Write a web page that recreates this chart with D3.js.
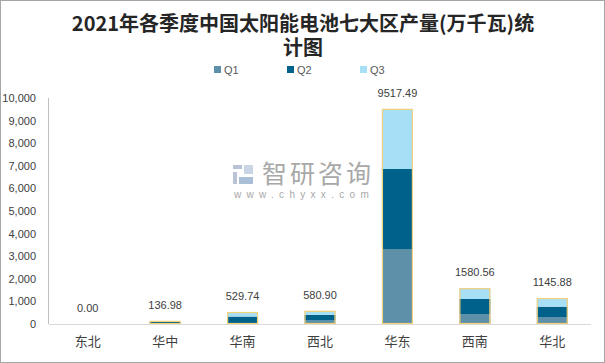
<!DOCTYPE html>
<html>
<head>
<meta charset="utf-8">
<script src="https://cdn.jsdelivr.net/npm/d3@7"></script>
<style>
  body { margin: 0; background: #fff; }
  svg { display: block; }
</style>
</head>
<body>
<div class="canvas"></div>
<script>
// 画布尺寸与边距
const width = 605;
const height = 363;
const marginTop = 98;
const marginRight = 14;
const marginBottom = 39;
const marginLeft = 49;

// 数据
const regions = ['东北', '华中', '华南', '西北', '华东', '西南', '华北'];
const q1 = [0, 30, 10, 154, 3318, 440, 310];
const q2 = [0, 70, 320, 250, 3540, 666, 456];
const q3 = [0, 36.98, 199.74, 176.9, 2659.49, 474.56, 379.88];
const totals = [0.00, 136.98, 529.74, 580.90, 9517.49, 1580.56, 1145.88];
const seriesNames = ['Q1', 'Q2', 'Q3'];
const yTicks = [0, 1000, 2000, 3000, 4000, 5000, 6000, 7000, 8000, 9000, 10000];

const colors = ['#5e90a9', '#00618a', '#a7dff7'];
const color = d3.scaleOrdinal(seriesNames, colors);

const rows = regions.map((r, i) => ({ region: r, Q1: q1[i], Q2: q2[i], Q3: q3[i], total: totals[i] }));
const stacked = d3.stack().keys(seriesNames)(rows);

const x = d3.scaleBand()
  .domain(regions)
  .range([marginLeft, width - marginRight])
  .paddingInner(0.6)
  .paddingOuter(0.3);

const y = d3.scaleLinear()
  .domain([0, 10000])
  .range([height - marginBottom, marginTop]);

const svg = d3.select('.canvas').append('svg')
  .attr('width', width)
  .attr('height', height);

// 外边框
svg.append('rect')
  .attr('x', 0.5).attr('y', 0.5)
  .attr('width', width - 1).attr('height', height - 1)
  .attr('fill', '#fff')
  .attr('stroke', '#a6a6a6');

// 标题
const title = svg.append('text')
  .attr('text-anchor', 'middle')
  .attr('font-family', '"Noto Sans CJK SC", sans-serif')
  .attr('font-weight', 'bold')
  .attr('font-size', 20)
  .attr('fill', '#262626');
title.append('tspan').attr('x', 303).attr('y', 31).text('2021年各季度中国太阳能电池七大区产量(万千瓦)统');
title.append('tspan').attr('x', 303).attr('y', 55).text('计图');

// 图例
const legend = svg.append('g')
  .selectAll('g')
  .data(seriesNames)
  .join('g')
    .attr('transform', (d, i) => `translate(${214 + i * 73}, 66)`);
legend.append('rect')
  .attr('width', 7).attr('height', 7)
  .attr('fill', d => color(d));
legend.append('text')
  .attr('x', 10).attr('y', 7.5)
  .attr('font-family', '"Liberation Sans", Arial, sans-serif')
  .attr('font-size', 11)
  .attr('fill', '#595959')
  .text(d => d);

// 水印
const wm = svg.append('g').attr('transform', 'translate(233, 163)');
wm.append('rect').attr('x', 0).attr('y', 2).attr('width', 9).attr('height', 4).attr('fill', '#b8c4d6');
wm.append('rect').attr('x', 0).attr('y', 9).attr('width', 4).attr('height', 12).attr('fill', '#b8c4d6');
wm.append('rect').attr('x', 11).attr('y', 2).attr('width', 9).attr('height', 9).attr('fill', '#c9d4e4');
wm.append('rect').attr('x', 6).attr('y', 14).attr('width', 14).attr('height', 7).attr('fill', '#a9bfd8');
wm.append('text')
  .attr('x', 29).attr('y', 20)
  .attr('font-family', '"Noto Sans CJK SC", sans-serif')
  .attr('font-size', 25)
  .attr('letter-spacing', 3)
  .attr('fill', '#a8a8a8')
  .text('智研咨询');
wm.append('text')
  .attr('x', 1).attr('y', 35)
  .attr('font-family', '"Liberation Sans", Arial, sans-serif')
  .attr('font-size', 10)
  .attr('letter-spacing', 5.3)
  .attr('fill', '#a8a8a8')
  .text('www.chyxx.com');

// 堆叠柱
svg.append('g')
  .selectAll('g')
  .data(stacked)
  .join('g')
    .attr('fill', d => color(d.key))
  .selectAll('rect')
  .data(d => d)
  .join('rect')
    .attr('x', d => x(d.data.region))
    .attr('y', d => y(d[1]))
    .attr('width', x.bandwidth())
    .attr('height', d => y(d[0]) - y(d[1]));

// 合计外框
svg.append('g')
  .selectAll('rect')
  .data(rows.filter(d => d.total > 0))
  .join('rect')
    .attr('x', d => x(d.region) + 0.5)
    .attr('y', d => y(d.total) + 0.5)
    .attr('width', x.bandwidth() - 1)
    .attr('height', d => Math.max(0, y(0) - y(d.total) - 1))
    .attr('fill', 'none')
    .attr('stroke', '#f3d07a')
    .attr('stroke-width', 1.2);

// 合计标签
svg.append('g')
  .selectAll('text')
  .data(rows)
  .join('text')
    .attr('x', d => x(d.region) + x.bandwidth() / 2)
    .attr('y', d => y(d.total) - 12)
    .attr('text-anchor', 'middle')
    .attr('font-family', '"Liberation Sans", Arial, sans-serif')
    .attr('font-size', 11)
    .attr('fill', '#404040')
    .text(d => d.total.toFixed(2));

// X 轴
const gx = svg.append('g')
  .attr('transform', `translate(0, ${height - marginBottom})`)
  .call(d3.axisBottom(x).tickSize(0).tickPadding(13));
gx.select('.domain').attr('stroke', '#d9d9d9').attr('d', `M${marginLeft},0.5H${width - marginRight}`);
gx.selectAll('text')
  .attr('font-family', '"Noto Sans CJK SC", sans-serif')
  .attr('font-size', 13)
  .attr('fill', '#404040');

// Y 轴
const gy = svg.append('g')
  .attr('transform', `translate(${marginLeft}, 0)`)
  .call(d3.axisLeft(y).tickValues(yTicks).tickSize(0).tickPadding(13).tickFormat(d3.format(',')));
gy.select('.domain').attr('stroke', '#bfbfbf').attr('d', `M-0.5,${y(10000)}V${y(0)}`);
gy.selectAll('text')
  .attr('font-family', '"Liberation Sans", Arial, sans-serif')
  .attr('font-size', 11)
  .attr('fill', '#404040');
</script>
</body>
</html>
